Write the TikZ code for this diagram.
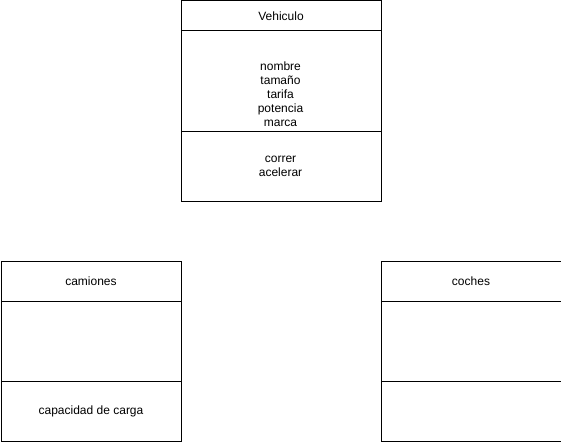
\documentclass[tikz,border=0pt]{standalone}
\usepackage{fontspec}
\setmainfont{Liberation Sans}
\begin{document}
\begin{tikzpicture}[x=1pt,y=-1pt,
  comp/.style={draw=black, line width=1pt, anchor=north west, inner sep=0pt, align=center, font=\fontsize{12}{14}\selectfont},
  txt/.style={inner sep=0pt, align=center, font=\fontsize{12}{14}\selectfont}]
\useasboundingbox (0,0) rectangle (561,441);
% Vehiculo
\node[comp, minimum width=200pt, minimum height=30pt] (vt) at (180.5,0.5) {Vehiculo};
\node[comp, minimum width=200pt, minimum height=100pt] (va) at (180.5,30.5) {};
\node[comp, minimum width=200pt, minimum height=70pt] (vm) at (180.5,130.5) {};
\node[txt] (vatxt) at (280.5,94) {nombre\\tamaño\\tarifa\\potencia\\marca};
\node[txt] (vmtxt) at (280.5,166) {correr\\acelerar};
% camiones
\node[comp, minimum width=180pt, minimum height=40pt] (ct) at (0.5,260.5) {camiones};
\node[comp, minimum width=180pt, minimum height=80pt] (ca) at (0.5,300.5) {};
\node[comp, minimum width=180pt, minimum height=60pt] (cm) at (0.5,380.5) {capacidad de carga};
% coches
\node[comp, minimum width=180pt, minimum height=40pt] (ht) at (380.5,260.5) {coches};
\node[comp, minimum width=180pt, minimum height=80pt] (ha) at (380.5,300.5) {};
\node[comp, minimum width=180pt, minimum height=60pt] (hm) at (380.5,380.5) {};
\end{tikzpicture}
\end{document}
